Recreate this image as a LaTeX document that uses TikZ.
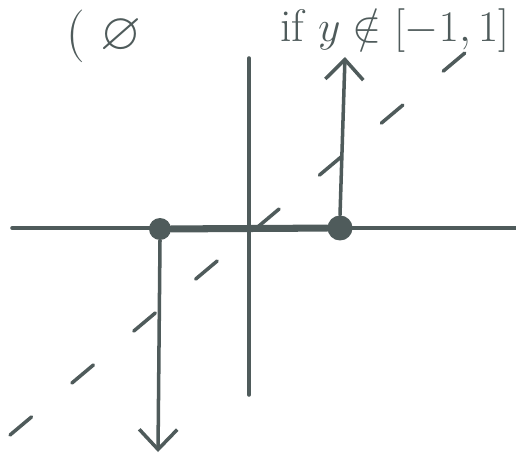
\documentclass[tikz,border=0pt]{standalone}
\usepackage{amssymb,amsmath}
\usetikzlibrary{arrows.meta}
\definecolor{ink}{HTML}{4F5B5B}

\begin{document}
\begin{tikzpicture}[x=0.02cm,y=-0.02cm,
        ink line/.style={draw=ink,line width=2pt,line cap=round},
        dot/.style={circle,fill=ink,minimum size=0.44cm,inner sep=0pt},
        label text/.style={text=ink,font=\fontsize{26}{26}\selectfont,inner sep=0pt},
        barb/.style={-{Straight Barb[length=0.4cm,width=0.76cm]}}]
    \useasboundingbox (0,0) rectangle (516,459);

    % Axes
    \coordinate (xl) at (12,228);
    \coordinate (xr) at (516,228);
    \coordinate (yt) at (249,58);
    \coordinate (yb) at (249,395);
    \draw[ink line] (xl) -- (xr);
    \draw[ink line] (yt) -- (yb);

    % Diagonal y = x
    \coordinate (d1) at (10,435);
    \coordinate (d2) at (472,47);
    \draw[ink line,dash pattern=on 16pt off 30pt] (d1) -- (d2);

    % End points of the interval
    \node[dot] (a) at (160,229) {};
    \node[dot,minimum size=0.5cm] (b) at (340,228) {};
    \draw[ink line,line width=4pt] (a) -- (b);

    % Arrows out of the end points
    \coordinate (up) at (345,57);
    \coordinate (down) at (158,452);
    \draw[ink line,barb] (b.north) -- (up);
    \draw[ink line,barb] (a.south) -- (down);

    % Labels
    \node[label text,font=\fontsize{30}{30}\selectfont] (empty) at (104,36) {(\ $\varnothing$};
    \node[label text,anchor=base west] (cond) at (280,42) {if $y\notin[-1,1]$};
\end{tikzpicture}
\end{document}
